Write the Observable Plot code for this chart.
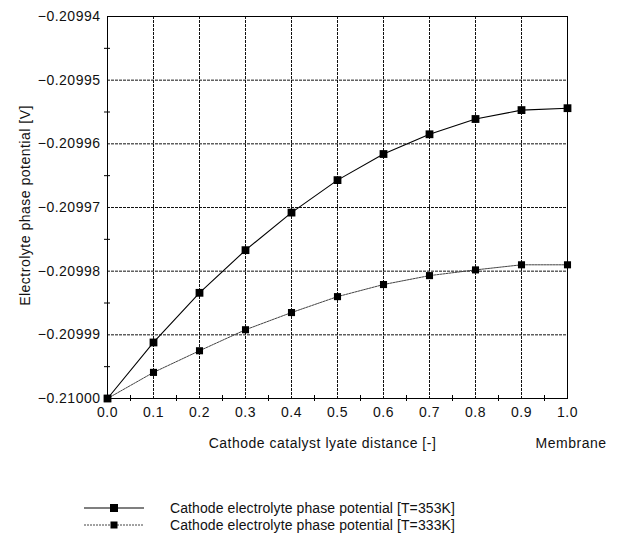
<!DOCTYPE html>
<html>
<head>
<meta charset="utf-8">
<script src="https://cdn.jsdelivr.net/npm/d3@7"></script>
<script src="https://cdn.jsdelivr.net/npm/@observablehq/plot@0.6"></script>
<style>
  body { margin: 0; background: #fff; width: 621px; height: 539px; position: relative; overflow: hidden;
         font-family: "Liberation Sans", Arial, sans-serif; }
  #chart { position: absolute; left: 0; top: 0; }
  .leg { position: absolute; left: 0; height: 16px; width: 621px; font-size: 14px; letter-spacing: 0.1px; color: #111; }
  .leg svg { position: absolute; left: 82px; top: 0; }
  .leg span { position: absolute; left: 170px; top: 0; line-height: 16px; white-space: nowrap; }
</style>
</head>
<body>
<div id="chart"></div>
<div class="leg" style="top:500px"><svg width="66" height="16"><line x1="2" y1="8" x2="62" y2="8" stroke="#000" stroke-width="1.2"/><rect x="28" y="4" width="8" height="8" fill="#000"/></svg><span id="l1"></span></div>
<div class="leg" style="top:517px"><svg width="66" height="16"><line x1="2" y1="8" x2="62" y2="8" stroke="#444" stroke-width="1" stroke-dasharray="2,1"/><rect x="28.5" y="4.5" width="7" height="7" fill="#000"/></svg><span id="l2"></span></div>
<script>
const distance = [0.0, 0.1, 0.2, 0.3, 0.4, 0.5, 0.6, 0.7, 0.8, 0.9, 1.0];
const potential353 = [-0.21000, -0.2099912, -0.2099834, -0.2099767, -0.2099708, -0.2099657, -0.2099616, -0.2099585, -0.2099561, -0.2099547, -0.2099544];
const potential333 = [-0.21000, -0.2099959, -0.2099925, -0.2099892, -0.2099865, -0.2099840, -0.2099821, -0.2099807, -0.2099798, -0.2099790, -0.2099790];
const seriesNames = ["Cathode electrolyte phase potential [T=353K]", "Cathode electrolyte phase potential [T=333K]"];
const xTicks = [0.0, 0.1, 0.2, 0.3, 0.4, 0.5, 0.6, 0.7, 0.8, 0.9, 1.0];
const xMinorTicks = [0.05, 0.15, 0.25, 0.35, 0.45, 0.55, 0.65, 0.75, 0.85, 0.95];
const yTicks = [-0.21000, -0.20999, -0.20998, -0.20997, -0.20996, -0.20995, -0.20994];
const yMinorTicks = [-0.209995, -0.209985, -0.209975, -0.209965, -0.209955, -0.209945];
const xTitle = "Cathode catalyst lyate distance [-]";
const yTitle = "Electrolyte phase potential [V]";
const membraneLabel = "Membrane";

document.getElementById("l1").textContent = seriesNames[0];
document.getElementById("l2").textContent = seriesNames[1];

const d353 = distance.map((x, i) => ({x, y: potential353[i]}));
const d333 = distance.map((x, i) => ({x, y: potential333[i]}));

const chart = Plot.plot({
  width: 621,
  height: 460,
  marginLeft: 107,
  marginRight: 54,
  marginTop: 16,
  marginBottom: 62,
  style: {fontFamily: '"Liberation Sans", Arial, sans-serif', fontSize: "14px", letterSpacing: "0.5px", color: "#111", background: "#fff"},
  x: {domain: [0, 1]},
  y: {domain: [-0.21, -0.20994]},
  marks: [
    Plot.gridX(xTicks, {stroke: "#111", strokeOpacity: 1, strokeDasharray: "3,1", strokeWidth: 1}),
    Plot.gridY(yTicks, {stroke: "#111", strokeOpacity: 1, strokeDasharray: "3,1", strokeWidth: 1}),
    Plot.frame({stroke: "#000", strokeWidth: 1}),
    Plot.axisX(xTicks, {tickSize: 0, tickPadding: 9, tickFormat: d3.format(".1f"), label: null, fill: "#111"}),
    Plot.axisX(xMinorTicks, {tickSize: 6, dy: -3, tickFormat: () => "", label: null, stroke: "#000"}),
    Plot.axisY(yTicks, {tickSize: 0, tickPadding: 7, tickFormat: d3.format(".5f"), label: null, fill: "#111"}),
    Plot.axisY(yMinorTicks, {tickSize: 6, dx: 3, tickFormat: () => "", label: null, stroke: "#000"}),
    Plot.text([xTitle], {frameAnchor: "bottom", text: d => d, dy: 49, dx: -15, fill: "#111"}),
    Plot.text([membraneLabel], {frameAnchor: "bottom-right", textAnchor: "end", text: d => d, dy: 49, dx: 39, fill: "#111"}),
    Plot.text([yTitle], {frameAnchor: "left", textAnchor: "middle", rotate: -90, text: d => d, dx: -82, dy: -2, fill: "#111"}),
    Plot.line(d333, {x: "x", y: "y", stroke: "#444", strokeWidth: 1, strokeDasharray: "2,1"}),
    Plot.line(d353, {x: "x", y: "y", stroke: "#000", strokeWidth: 1.1}),
    Plot.dot(d333, {x: "x", y: "y", symbol: "square", r: 4, fill: "#000", stroke: "none"}),
    Plot.dot(d353, {x: "x", y: "y", symbol: "square", r: 4.4, fill: "#000", stroke: "none"})
  ]
});
document.getElementById("chart").appendChild(chart);
</script>
</body>
</html>
